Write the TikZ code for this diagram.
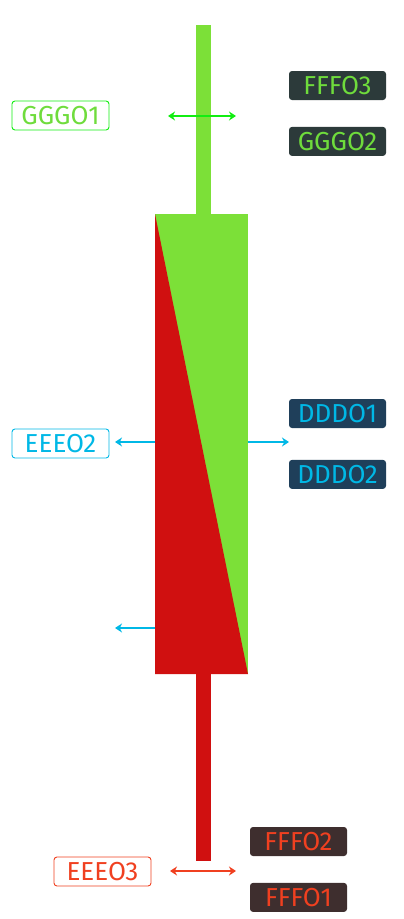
\documentclass[tikz,border=0pt]{standalone}
\usepackage{fontspec}
\setmainfont{Fira Sans}
\usetikzlibrary{arrows.meta,positioning}
\definecolor{upgreen}{HTML}{7CE038}
\definecolor{downred}{HTML}{D01010}
\definecolor{arrgreen}{HTML}{11EE11}
\definecolor{arrcyan}{HTML}{00B8E6}
\definecolor{arrred}{HTML}{F04020}
\definecolor{boxgreen}{HTML}{2C3A3A}
\definecolor{boxblue}{HTML}{1F3F5A}
\definecolor{boxbrown}{HTML}{3E2E2E}
\definecolor{txtgreen}{HTML}{6FDC3C}
\tikzset{
 cs label/.style={rounded corners=3pt,minimum width=97pt,minimum height=29pt,
                  inner sep=0pt,font=\fontsize{26}{26}\selectfont,line width=.9pt},
 cs open/.style={cs label,draw=#1,fill=white,text=#1},
 cs dark/.style={cs label,fill=#1},
 cs arrow/.style={line width=2.8pt,-{Stealth[length=7pt,width=9pt]}},
 cs both/.style={line width=2.8pt,{Stealth[length=7pt,width=9pt]}-{Stealth[length=7pt,width=9pt]}}
}
\begin{document}
\begin{tikzpicture}[x=1pt,y=-1pt]
 \useasboundingbox (0,0) rectangle (404,919);
 % candle
 \fill[upgreen] (196,25) rectangle (211,214);
 \fill[downred] (196,674) rectangle (211,861);
 \fill[upgreen] (155,214) rectangle (248,674);
 \fill[downred] (155,214) -- (248,674) -- (155,674) -- cycle;

 % labels
 \node[cs open=arrgreen,text=txtgreen] (gggo1) at (60.5,115.5) {GGGO1};
 \node[cs dark=boxgreen,text=txtgreen] (fffo3) at (337.5,85.5) {FFFO3};
 \node[cs dark=boxgreen,text=txtgreen,below=26pt of fffo3] (gggo2) {GGGO2};
 \node[cs open=arrcyan] (eeeo2) at (60.5,443.5) {EEEO2};
 \node[cs dark=boxblue,text=arrcyan] (dddo1) at (337.5,413.5) {DDDO1};
 \node[cs dark=boxblue,text=arrcyan,below=31pt of dddo1] (dddo2) {DDDO2};
 \node[cs open=arrred] (eeeo3) at (102.5,871.5) {EEEO3};
 \node[cs dark=boxbrown,text=arrred] (fffo2) at (298.5,841.5) {FFFO2};
 \node[cs dark=boxbrown,text=arrred,below=26pt of fffo2] (fffo1) {FFFO1};

 % arrows
 \coordinate (ga) at (168,116);
 \coordinate (gb) at (236,116);
 \coordinate (cb) at (155,442);
 \coordinate (ca) at (115,442);
 \coordinate (cc) at (248,442);
 \coordinate (cd) at (289,442);
 \coordinate (ce) at (155,628);
 \coordinate (cf) at (115,628);
 \coordinate (ra) at (170,871);
 \coordinate (rb) at (236,871);
 \draw[cs both,arrgreen] (ga)--(gb);
 \draw[cs arrow,arrcyan] (cb)--(ca);
 \draw[cs arrow,arrcyan] (cc)--(cd);
 \draw[cs arrow,arrcyan] (ce)--(cf);
 \draw[cs both,arrred] (ra)--(rb);
\end{tikzpicture}
\end{document}
